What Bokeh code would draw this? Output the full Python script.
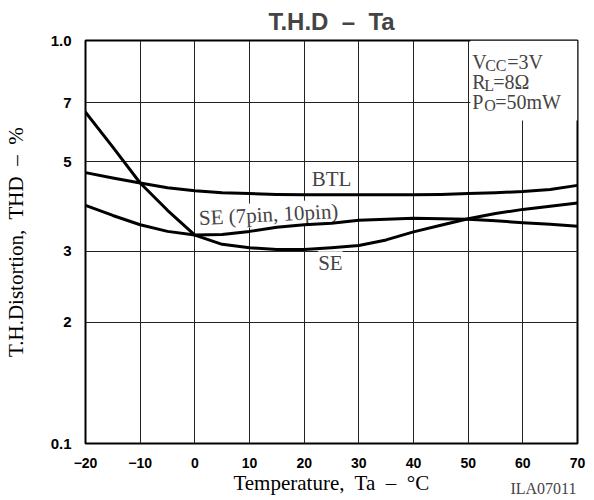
from bokeh.plotting import figure
from bokeh.models import Range1d, FixedTicker, Label, BoxAnnotation, Title
from bokeh.embed import file_html
from bokeh.resources import INLINE

# ---- data (THD in %, temperature in degC) ----
temps = [-20, -15, -10, -5, 0, 5, 10, 15, 20, 25, 30, 35, 40, 45, 50, 55, 60, 65, 70]
thd_btl = [0.470, 0.456, 0.443, 0.431, 0.424, 0.419, 0.417, 0.415, 0.414, 0.414,
           0.414, 0.414, 0.414, 0.415, 0.417, 0.419, 0.422, 0.427, 0.437]
thd_se = [0.664, 0.544, 0.443, 0.379, 0.329, 0.312, 0.306, 0.303, 0.303, 0.306,
          0.310, 0.320, 0.335, 0.348, 0.361, 0.372, 0.381, 0.388, 0.395]
thd_se7 = [0.390, 0.368, 0.349, 0.336, 0.329, 0.330, 0.336, 0.344, 0.349, 0.352,
           0.358, 0.360, 0.362, 0.361, 0.360, 0.357, 0.353, 0.350, 0.346]

xtick_vals = [-20, -10, 0, 10, 20, 30, 40, 50, 60, 70]
xtick_labels = ["\u221220", "\u221210", "0", "10", "20", "30", "40", "50", "60", "70"]
ytick_vals = [0.1, 0.2, 0.3, 0.5, 0.7, 1.0]
ytick_labels = ["0.1", "2", "3", "5", "7", "1.0"]

SERIF = "Liberation Serif"
SANS = "Liberation Sans"
SP2 = "\u00a0 "   # two visible spaces (SVG collapses plain runs of spaces)

p = figure(width=594, height=500, x_range=Range1d(-20, 70), y_range=Range1d(0.1, 1.0),
           y_axis_type="log", output_backend="svg", toolbar_location=None,
           min_border_left=85, min_border_right=17, min_border_top=40, min_border_bottom=57)

p.background_fill_color = "white"
p.border_fill_color = "white"
p.outline_line_color = "black"
p.outline_line_width = 2

# title
p.title.text = "T.H.D" + SP2 + "\u2013" + SP2 + "Ta"
p.title.align = "center"
p.title.text_font = SANS
p.title.text_font_style = "bold"
p.title.text_font_size = "24px"
p.title.standoff = 11

# axes
p.xaxis.ticker = FixedTicker(ticks=xtick_vals)
p.xaxis.major_label_overrides = dict(zip(xtick_vals, xtick_labels))
p.yaxis.ticker = FixedTicker(ticks=ytick_vals)
p.yaxis.major_label_overrides = dict(zip(ytick_vals, ytick_labels))
for ax in (p.xaxis, p.yaxis):
    ax.axis_line_color = None
    ax.major_tick_line_color = None
    ax.minor_tick_line_color = None
    ax.major_label_text_font = SANS
    ax.major_label_text_font_style = "bold"
    ax.major_label_text_color = "black"
    ax.axis_label_text_font = SERIF
    ax.axis_label_text_font_style = "normal"
    ax.axis_label_text_font_size = "21px"
    ax.axis_label_text_color = "black"
p.xaxis.major_label_text_font_size = "14px"
p.yaxis.major_label_text_font_size = "15px"
p.xaxis.major_label_standoff = 8
p.yaxis.major_label_standoff = 8
p.xaxis.axis_label = "Temperature," + SP2 + "Ta" + SP2 + "\u2013" + SP2 + "\u00b0C"
p.yaxis.axis_label = "T.H.Distortion," + SP2 + "THD" + SP2 + "\u2013" + SP2 + "%"
p.xaxis.axis_label_standoff = 0
p.yaxis.axis_label_standoff = 20

p.xgrid.grid_line_color = "#222222"
p.ygrid.grid_line_color = "#222222"
p.xgrid.grid_line_width = 1
p.ygrid.grid_line_width = 1

# white box behind the conditions text
p.add_layout(BoxAnnotation(left=50.4, right=70, bottom=0.633, top=1.0,
                           fill_color="white", fill_alpha=1.0, line_color=None,
                           level="underlay"))

# curve labels (white background, below the curves)
def curve_label(txt, x, y, angle=0.0):
    p.add_layout(Label(x=x, y=y, text=txt, text_font=SERIF, text_font_size="21px",
                       text_align="center", text_baseline="middle", angle=angle,
                       background_fill_color="white", background_fill_alpha=1.0,
                       level="underlay"))

curve_label("BTL", 25.0, 0.452)
curve_label("SE (7pin, 10pin)", 13.5, 0.370, angle=0.05)
curve_label("SE", 24.8, 0.280)

# curves
for ys in (thd_btl, thd_se, thd_se7):
    p.line(temps, ys, line_width=3, line_color="black", line_join="round", line_cap="round")

# conditions text
def cond(txt, dx, dy, size):
    p.add_layout(Label(x=50, y=1.0, x_offset=dx, y_offset=dy, text=txt,
                       text_font=SERIF, text_font_size=size,
                       text_align="left", text_baseline="alphabetic"))

cond("V", 4, -21, "20px")
cond("CC", 17, -25, "16px")
cond("=3V", 39, -21, "20px")
cond("R", 4, -41, "20px")
cond("L", 16, -45, "16px")
cond("=8\u03a9", 25, -41, "20px")
cond("P", 4, -61, "20px")
cond("O", 16, -65, "16px")
cond("=50mW", 27, -61, "20px")

# figure code at the lower right, outside the frame (a below-side title pulled upward)
p.add_layout(Title(text="ILA07011", align="right", vertical_align="top",
                   text_font=SERIF, text_font_size="16px", text_font_style="normal",
                   offset=1, standoff=-36), "below")

open("out.html", "w").write(file_html(p, INLINE))
